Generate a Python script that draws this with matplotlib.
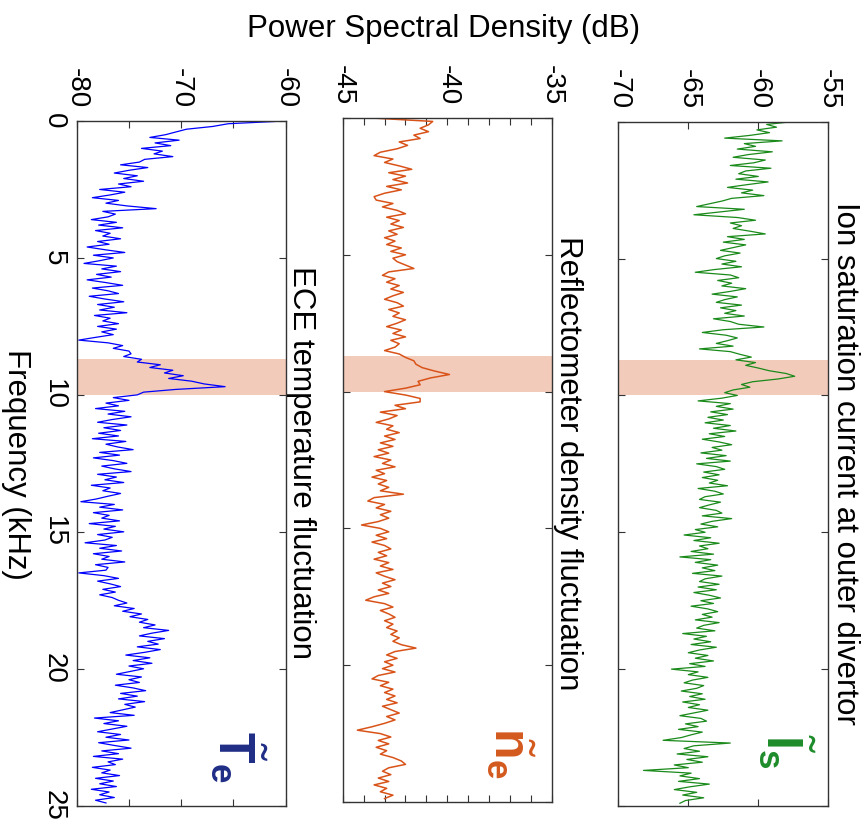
import numpy as np
import matplotlib
matplotlib.use('Agg')
import matplotlib.pyplot as plt

plt.rcParams['font.family'] = ['Liberation Sans', 'DejaVu Sans']
plt.rcParams['axes.unicode_minus'] = False
plt.rcParams['mathtext.fontset'] = 'custom'
plt.rcParams['mathtext.rm'] = 'Liberation Sans'
plt.rcParams['mathtext.bf'] = 'Liberation Sans:bold'
plt.rcParams['mathtext.sf'] = 'Liberation Sans'
plt.rcParams['mathtext.it'] = 'Liberation Sans:italic'

# ---------------- data ----------------
freq_ticks = [0, 5, 10, 15, 20, 25]
band_khz = [8.7, 10.0]

# ECE temperature fluctuation, PSD (dB), 0.1 kHz spacing
te_step = 0.1
te_psd = [
    -60.1, -65.5, -67.0, -69.5, -70.5,
    -71.5, -73.0, -70.2, -72.5, -71.0, -73.8, -71.8, -72.6, -70.8, -73.5,
    -74.0, -75.8, -73.2, -75.0, -76.4, -74.2, -75.5, -73.6, -76.0, -74.8,
    -77.8, -75.4, -76.8, -78.5, -76.0, -77.2, -75.2, -72.4, -77.5, -76.3,
    -77.0, -78.6, -76.2, -77.9, -75.6, -78.2, -76.8, -77.5, -75.8, -78.0,
    -76.9, -79.0, -77.3, -75.4, -78.4, -76.5, -77.8, -79.3, -76.2, -77.6,
    -75.8, -78.1, -76.7, -79.0, -77.2, -75.6, -78.5, -77.0, -76.0, -78.8,
    -77.3, -75.5, -78.0, -76.4, -77.8, -75.2, -78.3, -76.8, -77.5, -76.0,
    -78.0, -76.2, -77.6, -76.5, -78.2, -79.8, -77.0, -75.6, -76.5, -75.0,
    -74.8, -75.5, -73.8, -74.2, -72.0, -73.0, -70.8, -71.6, -69.8, -71.2,
    -69.0, -67.8, -65.8, -70.5, -73.6, -74.2, -76.5, -75.0, -77.2, -76.0,
    -78.2, -75.4, -77.0, -74.8, -76.6, -78.0, -75.2, -77.4, -75.8, -77.9,
    -76.0, -78.5, -75.3, -77.2, -76.1, -74.6, -77.8, -75.9, -78.4, -76.5,
    -75.2, -77.6, -76.4, -74.8, -78.0, -76.2, -77.3, -75.5, -78.6, -76.8,
    -77.5, -75.8, -77.0, -78.1, -79.6, -76.4, -77.8, -75.6, -78.4, -76.9,
    -77.6, -75.9, -78.8, -76.3, -77.4, -75.5, -78.0, -76.6, -77.3, -79.2,
    -76.2, -77.8, -75.7, -78.4, -76.9, -77.6, -75.4, -78.2, -77.0, -77.2,
    -79.8, -77.4, -76.0, -78.0, -76.8, -75.8, -77.5, -76.3, -77.8, -76.6,
    -76.0, -75.2, -76.4, -74.5, -75.6, -73.8, -74.9, -73.2, -74.0, -72.5,
    -73.6, -71.2, -72.8, -74.0, -71.6, -73.2, -72.2, -74.2, -72.0, -73.5,
    -75.3, -73.0, -74.6, -72.8, -75.0, -73.6, -74.9, -76.2, -73.8, -75.0,
    -74.0, -76.3, -74.6, -73.4, -75.8, -74.2, -76.0, -73.5, -75.4, -74.4,
    -75.6, -76.8, -74.5, -78.3, -76.0, -77.4, -75.2, -76.6, -78.0, -75.8,
    -77.2, -75.0, -77.9, -76.4, -74.8, -77.6, -76.0, -78.4, -75.6, -77.0,
    -76.3, -78.5, -76.8, -77.6, -75.9, -78.2, -76.5, -77.8, -76.2, -78.6,
    -76.9, -77.8, -76.4, -78.2, -77.2,
]

# Reflectometer density fluctuation, PSD (dB), 0.125 kHz spacing
ne_step = 0.125
ne_psd = [
    -43.6, -40.7, -40.9, -41.3, -40.9, -41.6, -41.3, -42.3,
    -41.9, -42.4, -43.2, -43.5, -42.6, -43.0, -42.3, -41.7,
    -42.8, -42.0, -42.6, -41.9, -42.9, -42.2, -43.0, -43.5,
    -43.4, -42.6, -43.1, -42.4, -42.0, -42.9, -42.3, -42.7,
    -42.1, -42.8, -42.4, -43.0, -42.5, -42.9, -42.2, -42.7,
    -42.0, -42.6, -42.4, -42.0, -41.6, -42.8, -43.1, -42.5,
    -42.9, -42.3, -42.7, -42.1, -42.6, -43.0, -42.4, -42.1,
    -42.8, -42.3, -42.6, -42.0, -42.4, -42.9, -42.2, -42.6,
    -42.0, -42.7, -42.3, -42.5, -43.0, -42.3, -42.0, -41.6,
    -41.5, -41.2, -40.6, -39.9, -40.8, -41.4, -41.3, -42.0,
    -43.0, -42.0, -41.3, -41.3, -42.5, -42.0, -43.2, -42.4,
    -42.8, -43.4, -42.6, -42.9, -42.3, -43.0, -42.5, -43.2,
    -42.6, -43.3, -42.8, -43.5, -42.7, -43.1, -42.5, -43.4,
    -43.0, -43.6, -42.9, -43.3, -42.8, -43.2, -42.1, -43.5,
    -43.8, -43.0, -43.4, -42.7, -43.2, -42.8, -43.3, -44.1,
    -43.2, -42.8, -43.4, -42.9, -43.6, -43.0, -42.7, -43.3,
    -42.9, -43.5, -42.8, -43.2, -42.6, -43.4, -43.0, -42.5,
    -43.1, -42.7, -43.3, -42.8, -43.5, -43.9, -43.0, -42.6,
    -43.2, -42.8, -42.5, -43.0, -42.6, -42.9, -42.4, -42.7,
    -42.3, -42.6, -42.2, -41.5, -42.5, -42.9, -42.4, -43.0,
    -42.6, -43.1, -42.5, -43.3, -43.6, -42.8, -43.2, -42.6,
    -43.0, -42.5, -42.9, -42.4, -43.1, -42.7, -42.3, -42.9,
    -42.5, -43.0, -43.6, -44.3, -43.2, -42.7, -43.3, -42.8,
    -43.4, -42.9, -43.2, -42.6, -42.2, -42.0, -42.8, -43.1,
    -42.7, -43.3, -42.8, -43.5, -42.9, -43.2, -42.6, -43.0,
]

# Ion saturation current at outer divertor, PSD (dB), 0.1 kHz spacing
is_step = 0.1
is_psd = [
    -57.6, -59.4, -58.7, -60.1, -59.2, -60.6, -62.4, -58.3, -61.0, -60.2,
    -61.5, -59.0, -60.7, -61.8, -59.5, -60.3, -62.0, -59.1, -60.9, -61.4,
    -60.0, -61.6, -59.3, -60.8, -62.2, -60.4, -61.2, -59.6, -61.9, -62.6,
    -63.5, -64.4, -61.0, -62.8, -64.6, -61.5, -60.2, -62.0, -61.2, -61.8,
    -60.6, -59.5, -62.2, -61.0, -62.5, -60.9, -61.8, -62.7, -61.3, -62.4,
    -63.0, -61.6, -62.6, -61.2, -63.1, -64.5, -62.0, -61.4, -62.9, -61.9,
    -62.6, -60.9, -62.0, -63.3, -61.5, -62.4, -63.0, -61.2, -62.7, -61.6,
    -62.4, -61.0, -63.2, -62.0, -61.4, -59.6, -62.5, -64.0, -62.3, -61.5,
    -62.2, -63.0, -61.8, -64.2, -62.0, -61.3, -60.5, -61.6, -60.2, -60.9,
    -60.0, -59.2, -58.0, -57.4, -58.6, -60.4, -61.2, -60.6, -61.8, -62.4,
    -61.5, -62.6, -64.3, -62.0, -63.0, -61.8, -63.4, -62.2, -63.6, -62.5,
    -63.8, -62.0, -63.2, -61.6, -63.5, -62.4, -64.0, -62.8, -61.9, -63.3,
    -62.6, -64.1, -62.3, -63.7, -62.0, -64.4, -63.0, -62.4, -63.9, -62.8,
    -64.0, -62.9, -63.5, -62.2, -64.3, -63.1, -62.5, -63.8, -64.2, -62.7,
    -63.5, -64.2, -63.0, -62.6, -64.0, -61.9, -63.3, -64.1, -62.9, -64.5,
    -63.8, -65.3, -63.4, -64.6, -62.8, -64.2, -63.6, -64.8, -63.2, -65.6,
    -63.4, -64.5, -62.9, -64.0, -63.1, -64.7, -62.6, -63.8, -64.2, -62.8,
    -64.3, -63.0, -64.6, -63.5, -62.7, -64.1, -63.2, -64.8, -63.6, -62.9,
    -64.0, -63.3, -64.5, -62.8, -63.9, -64.4, -63.1, -65.4, -63.7, -64.6,
    -63.4, -64.8, -63.0, -64.2, -65.0, -63.6, -64.5, -63.2, -64.9, -63.8,
    -66.2, -64.3, -65.0, -63.6, -64.7, -65.3, -63.9, -64.4, -65.5, -64.0,
    -64.9, -63.8, -65.4, -64.2, -65.0, -63.6, -64.6, -65.6, -64.1, -63.7,
    -65.2, -64.3, -65.7, -64.0, -64.8, -65.5, -66.8, -62.0, -64.6, -65.3,
    -64.2, -65.8, -63.6, -65.1, -64.0, -66.0, -65.0, -68.2, -64.8, -65.6,
    -64.2, -65.7, -63.5, -64.9, -66.0, -64.4, -65.4, -63.9, -65.2, -65.6,
]

panel_titles = ['ECE temperature fluctuation',
                'Reflectometer density fluctuation',
                'Ion saturation current at outer divertor']
panel_tags = [r'$\tilde{\mathbf{T}}_{\mathbf{e}}$',
              r'$\tilde{\mathbf{n}}_{\mathbf{e}}$',
              r'$\tilde{\mathbf{I}}_{\mathbf{s}}$']
te_xticks = [-80, -70, -60]
ne_xticks = [-45, -40, -35]
is_xticks = [-70, -65, -60, -55]

# ---------------- styling / layout ----------------
W, H = 867, 827
fig = plt.figure(figsize=(W / 100, H / 100), dpi=100)

def rect(x0, x1, y0, y1):
    return [x0 / W, 1 - y1 / H, (x1 - x0) / W, (y1 - y0) / H]

panels = [
    dict(psd=te_psd, step=te_step, color='#0000ff', lw=0.9,
         xlim=(-80, -60), major=te_xticks, minor=[-75, -65],
         rect=rect(76.7, 285.7, 121, 805.7), title_x=293,
         tag_color='#1f2d86', tag_pos=(-64.6, 23.2)),
    dict(psd=ne_psd, step=ne_step, color='#d95319', lw=1.1,
         xlim=(-45, -35), major=ne_xticks, minor=list(range(-44, -35)),
         rect=rect(342.7, 552.0, 118, 802), title_x=560,
         tag_color='#d45a1e', tag_pos=(-37.0, 23.2)),
    dict(psd=is_psd, step=is_step, color='#1a8a1a', lw=0.9,
         xlim=(-70, -55), major=is_xticks, minor=[],
         rect=rect(618.3, 828.3, 121.7, 806), title_x=837,
         tag_color='#1e8c2a', tag_pos=(-58.0, 23.0)),
]

spine_c = '#333333'
for i, p in enumerate(panels):
    ax = fig.add_axes(p['rect'])
    f = np.arange(len(p['psd'])) * p['step']
    ax.axhspan(band_khz[0], band_khz[1], color='#f3cbbb', lw=0, zorder=0)
    ax.plot(p['psd'], f, color=p['color'], lw=p['lw'], zorder=2)
    ax.set_xlim(*p['xlim'])
    ax.set_ylim(25, 0)
    ax.set_xticks(p['major'])
    ax.set_xticklabels([str(v) for v in p['major']])
    if p['minor']:
        ax.set_xticks(p['minor'], minor=True)
    ax.set_yticks(freq_ticks)
    ax.set_yticklabels([str(v) for v in freq_ticks])
    for s in ax.spines.values():
        s.set_color(spine_c)
        s.set_linewidth(1.0)
    ax.tick_params(axis='both', which='both', direction='in', length=5,
                   width=0.8, color=spine_c, labelcolor='black',
                   top=True, bottom=True, left=True, right=True,
                   labeltop=True, labelbottom=False,
                   labelleft=(i == 0), labelright=False, labelsize=20)
    ax.tick_params(axis='x', which='major', labelrotation=-90, pad=9)
    ax.tick_params(axis='y', which='major', labelrotation=-90, pad=7)
    for lbl in ax.get_yticklabels():
        lbl.set_va('center')
    # panel title (rotated, to the right of each panel)
    fig.text(p['title_x'] / W, 1 - 463 / H, panel_titles[i], rotation=-90,
             rotation_mode='anchor', ha='center', va='baseline', fontsize=22.5)
    # signal tag
    ax.text(p['tag_pos'][0], p['tag_pos'][1], panel_tags[i], rotation=-90,
            rotation_mode='anchor', ha='center', va='center', fontsize=36,
            color=p['tag_color'], fontweight='bold')

fig.text(444 / W, 1 - 37 / H, 'Power Spectral Density (dB)', ha='center',
         va='baseline', fontsize=22.5)
fig.text(8 / W, 1 - 464 / H, 'Frequency (kHz)', rotation=-90,
         rotation_mode='anchor', ha='center', va='baseline', fontsize=22.5)

fig.savefig('out.png', dpi=100)
